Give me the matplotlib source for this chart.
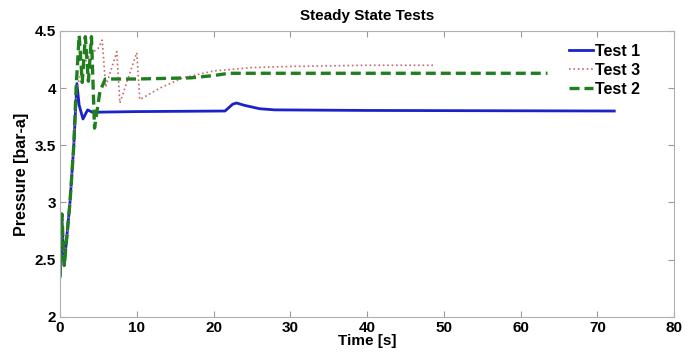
import matplotlib
matplotlib.use("Agg")
import matplotlib.pyplot as plt

plt.rcParams['font.family'] = ['Liberation Sans', 'DejaVu Sans']

# Test 1 (blue, solid)
t1 = [0, 0.25, 0.55, 1.3, 1.8, 2.2, 2.5, 3.0, 3.6, 4.2, 5, 10, 21.5, 22.5, 23, 24, 26, 28, 40, 72.2]
p1 = [2.35, 2.85, 2.45, 3.0, 3.5, 4.04, 3.85, 3.73, 3.81, 3.79, 3.79, 3.795, 3.80, 3.86, 3.87, 3.85, 3.82, 3.81, 3.805, 3.80]

# Test 3 (red, dotted)
t3 = [0, 0.25, 0.55, 1.3, 1.8, 2.2, 3.0, 4.0, 5.0, 5.5, 5.95, 7.4, 7.8, 10.0, 10.4, 13, 16, 20, 25, 30, 40, 48.6]
p3 = [2.35, 2.85, 2.45, 3.0, 3.5, 4.0, 4.2, 4.3, 4.35, 4.42, 4.01, 4.32, 3.87, 4.31, 3.90, 4.0, 4.09, 4.15, 4.18, 4.19, 4.2, 4.2]

# Test 2 (green, dashed)
t2 = [0, 0.25, 0.55, 1.3, 1.8, 2.1, 2.5, 2.9, 3.3, 3.7, 4.1, 4.5, 5.2, 5.9, 10, 17, 20, 22, 30, 63.5]
p2 = [2.35, 2.9, 2.45, 3.0, 3.5, 4.0, 4.46, 4.05, 4.45, 4.06, 4.45, 3.65, 3.97, 4.08, 4.08, 4.09, 4.11, 4.13, 4.13, 4.13]

xticks = [0, 10, 20, 30, 40, 50, 60, 70, 80]
yticks = [2, 2.5, 3, 3.5, 4, 4.5]
ytick_labels = ['2', '2.5', '3', '3.5', '4', '4.5']

fig = plt.figure(figsize=(6.95, 3.56), dpi=100)
ax = fig.add_axes([0.0863, 0.110, 0.8837, 0.803])

ax.plot(t1, p1, color='#1a22c8', lw=2.0, label='Test 1')
ax.plot(t3, p3, color='#c86a6a', lw=1.2, ls=':', label='Test 3')
ax.plot(t2, p2, color='#1f7f1f', lw=2.4, ls='--', dashes=(3, 1.5), label='Test 2')

ax.set_xlim(0, 80)
ax.set_ylim(2, 4.5)
ax.set_xticks(xticks)
ax.set_yticks(yticks)
ax.set_yticklabels(ytick_labels)
ax.tick_params(direction='in', top=True, right=True, length=4, color='#999999',
               labelsize=11, pad=3)
for lab in ax.get_xticklabels() + ax.get_yticklabels():
    lab.set_fontweight('bold')
for s in ax.spines.values():
    s.set_color('#b0b0b0')
    s.set_linewidth(0.8)

ax.set_title('Steady State Tests', fontsize=11, fontweight='bold', pad=8)
ax.set_xlabel('Time [s]', fontsize=11, fontweight='bold', labelpad=-1)
ax.set_ylabel('Pressure [bar-a]', fontsize=11.5, fontweight='bold', labelpad=4)

leg = ax.legend(loc='upper right', bbox_to_anchor=(0.962, 0.995), frameon=False,
                fontsize=11.5, handlelength=1.5, handletextpad=0.1,
                labelspacing=0.25, borderaxespad=0.3)
for txt in leg.get_texts():
    txt.set_fontweight('bold')

fig.savefig('out.png', dpi=100)
